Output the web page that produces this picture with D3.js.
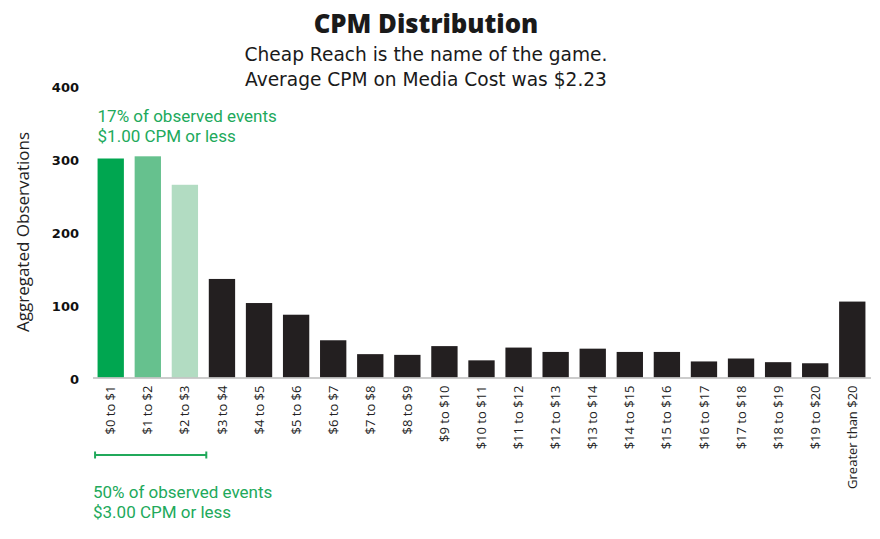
<!DOCTYPE html>
<html><head><meta charset="utf-8">
<script src="https://cdn.jsdelivr.net/npm/d3@7"></script>
<style>body{margin:0;background:#fff}svg{display:block}</style>
</head><body><svg id="c" width="880" height="539"></svg>
<script>
const categories = ["$0 to $1","$1 to $2","$2 to $3","$3 to $4","$4 to $5","$5 to $6","$6 to $7","$7 to $8","$8 to $9","$9 to $10","$10 to $11","$11 to $12","$12 to $13","$13 to $14","$14 to $15","$15 to $16","$16 to $17","$17 to $18","$18 to $19","$19 to $20","Greater than $20"];
const values = [300,303,264,135,102,86,51,32,31,43,23.5,41,35,39.5,35,35,22,26,21,19.5,104];
const barColors = ["#00a650","#66c18e","#b2dcc2"];
const yTicks = [0,100,200,300,400];
const titleText = "CPM Distribution";
const subtitleLines = ["Cheap Reach is the name of the game.","Average CPM on Media Cost was $2.23"];
const topNote = ["17% of observed events","$1.00 CPM or less"];
const bottomNote = ["50% of observed events","$3.00 CPM or less"];

const svg = d3.select("#c");
const font = "'Open Sans', sans-serif";
const green = "#21a95b";

const x = d3.scaleBand().domain(categories).range([92,871]).paddingInner(0.29).paddingOuter(0.15);
const y = d3.scaleLinear().domain([0,400]).range([377.5,85.5]);

// title
svg.append("text").attr("x",426).attr("y",33).attr("text-anchor","middle")
  .attr("font-family",font).attr("font-weight",800).attr("font-size",25.7).attr("fill","#1a1a1a").text(titleText);
svg.selectAll("text.sub").data(subtitleLines).join("text").attr("class","sub")
  .attr("x",426).attr("y",(d,i)=>60.5+i*25.5).attr("text-anchor","middle")
  .attr("font-family","'DejaVu Sans', sans-serif").attr("font-size",18.6).attr("fill","#1a1a1a").text(d=>d);

// y axis
const yAxis = d3.axisLeft(y).tickValues(yTicks).tickSize(0).tickPadding(0);
const yg = svg.append("g").attr("transform","translate(79,1.5)").call(yAxis);
yg.select(".domain").remove();
yg.selectAll("text").attr("font-family","'DejaVu Sans', sans-serif").attr("font-weight",700).attr("font-size",13).attr("fill","#111");

svg.append("text").attr("transform","translate(29,232) rotate(-90)").attr("text-anchor","middle")
  .attr("font-family",font).attr("font-size",17).attr("fill","#222").text("Aggregated Observations");

// bars
svg.selectAll("rect.bar").data(values).join("rect").attr("class","bar")
  .attr("x",(d,i)=>x(categories[i])).attr("width",x.bandwidth())
  .attr("y",d=>y(d)).attr("height",d=>y(0)-y(d))
  .attr("fill",(d,i)=>i<3?barColors[i]:"#231f20");

// x axis
const xAxis = d3.axisBottom(x).tickSize(0).tickPadding(0);
const xg = svg.append("g").attr("transform",`translate(0,${y(0)})`).call(xAxis);
xg.select(".domain").attr("stroke","#bbb").attr("stroke-width",1.5).attr("d",`M93,0.5H871`);
xg.selectAll("text").attr("font-family",font).attr("font-size",13).attr("fill","#222")
  .attr("text-anchor","end").attr("dy","0.35em")
  .attr("transform","translate(0,8) rotate(-90)").attr("x",0).attr("y",0);

// annotations
const noteFont = "Roboto, sans-serif";
svg.selectAll("text.tn").data(topNote).join("text").attr("class","tn")
  .attr("x",x(categories[0])).attr("y",(d,i)=>121.5+i*20).attr("font-family",noteFont).attr("font-size",17).attr("fill",green).text(d=>d);
svg.selectAll("text.bn").data(bottomNote).join("text").attr("class","bn")
  .attr("x",93).attr("y",(d,i)=>497.5+i*20).attr("font-family",noteFont).attr("font-size",17).attr("fill",green).text(d=>d);

const bx0 = x(categories[0]) - 2.5, bx1 = x(categories[3]) - 2.5, by = 455;
const br = svg.append("g").attr("stroke",green).attr("stroke-width",2).attr("fill","none");
br.append("line").attr("x1",bx0).attr("x2",bx1).attr("y1",by).attr("y2",by);
br.append("line").attr("x1",bx0).attr("x2",bx0).attr("y1",by-3.5).attr("y2",by+3.5);
br.append("line").attr("x1",bx1).attr("x2",bx1).attr("y1",by-3.5).attr("y2",by+3.5);
</script></body></html>
